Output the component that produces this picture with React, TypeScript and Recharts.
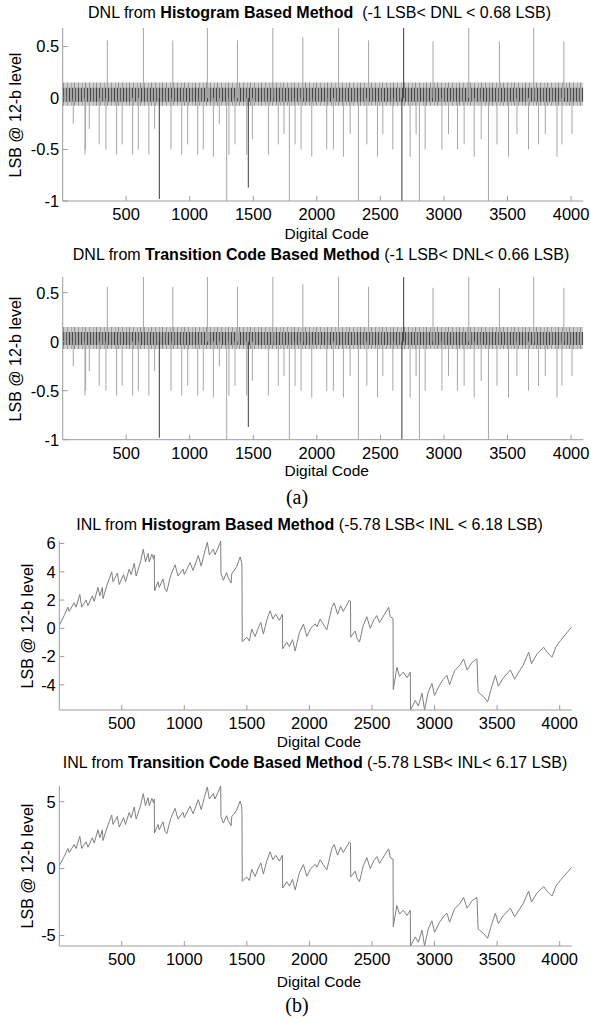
import { ComposedChart, Line, Area, XAxis, YAxis } from 'recharts'

const W = 591
const FONT = '"Liberation Sans", Arial, Helvetica, sans-serif'

const codeRange: [number, number] = [1, 4096]
const xTicks = [500, 1000, 1500, 2000, 2500, 3000, 3500, 4000]

const dnlTicks = [-1, -0.5, 0, 0.5]
const dnlHistRange: [number, number] = [-1, 0.68]
const dnlTransRange: [number, number] = [-1, 0.66]
const inlHistTicks = [-4, -2, 0, 2, 4, 6]
const inlTransTicks = [-5, 0, 5]
const inlHistRange: [number, number] = [-5.78, 6.18]
const inlTransRange: [number, number] = [-5.78, 6.17]

// DNL noise envelope (outer light band, darker core)
const bandCodes = [1, 4096]
const bandOuter = [[-0.075, 0.15], [-0.075, 0.15]]
const bandCore = [[-0.035, 0.1], [-0.035, 0.1]]

// DNL spikes
const upCodes = [352, 636, 867, 1139, 1376, 1654, 1890, 2171, 2407, 2914, 3195, 3436, 3706, 3943]
const upValues = [0.56, 0.68, 0.56, 0.68, 0.56, 0.68, 0.59, 0.68, 0.56, 0.55, 0.68, 0.55, 0.68, 0.55]

const downCodes = [
  84, 176, 181, 210, 288, 341, 425, 469, 551, 596, 679, 724, 853, 937, 984,
  1063, 1107, 1186, 1233, 1291, 1309, 1356, 1448, 1493, 1619, 1697, 1742, 1784, 1829, 1876,
  1960, 2078, 2130, 2209, 2262, 2327, 2393, 2477, 2519, 2598, 2734, 2781, 2807, 2852, 2984,
  3036, 3106, 3159, 3238, 3293, 3350, 3417, 3508, 3574, 3665, 3744, 3797, 3889, 3928, 4007,
]
const downValues = [
  -0.25, -0.55, -0.5, -0.3, -0.45, -0.5, -0.55, -0.45, -0.55, -0.5, -0.55, -0.3, -0.5, -0.55, -0.45,
  -0.55, -0.5, -0.57, -0.25, -1.0, -0.55, -0.45, -0.55, -0.4, -0.55, -0.45, -0.35, -1.0, -0.45, -0.5,
  -0.57, -0.5, -0.5, -0.57, -0.35, -1.0, -0.45, -0.57, -0.35, -0.5, -0.57, -0.35, -1.0, -0.5, -0.5,
  -0.35, -0.5, -0.45, -0.57, -0.4, -1.0, -0.45, -0.57, -0.35, -0.5, -0.45, -0.35, -0.57, -0.45, -0.35,
]

const darkCodes = [761, 1461, 2669, 2683]
const darkValues = [-0.98, -0.87, -1.0, 0.68]

// INL sawtooth
const inlCodes = [
  1, 40, 70, 80, 120, 135, 165, 180, 215, 230, 265, 280, 310, 325, 345, 350, 380, 400, 420, 430, 465, 480, 515, 530, 560, 575, 600, 615, 650, 672, 690, 710, 720, 740, 755, 760,
  762, 790, 800, 830, 845, 860, 890, 926, 950, 990, 1000, 1046, 1070, 1112, 1135, 1160, 1184, 1200, 1232, 1245, 1270, 1291,
  1293, 1312, 1338, 1350, 1374, 1380, 1400, 1420, 1446, 1459, 1461,
  1463, 1499, 1520, 1539, 1566, 1590, 1611, 1632, 1660, 1686, 1707, 1730, 1760, 1784,
  1786, 1819, 1840, 1865, 1886, 1920, 1952, 1979, 2010, 2046, 2060, 2086, 2110, 2139, 2179, 2198, 2225, 2250, 2270, 2320, 2328,
  2330, 2366, 2380, 2400, 2430, 2459, 2486, 2515, 2539, 2560, 2600, 2633, 2646, 2668,
  2670, 2699, 2720, 2750, 2780, 2806,
  2808, 2846, 2870, 2900, 2920, 2950, 2979, 3000, 3040, 3070, 3099, 3120, 3160, 3201, 3232, 3260, 3300, 3339,
  3348, 3392, 3424, 3455, 3486, 3510, 3550, 3606, 3640, 3680, 3707, 3752, 3775, 3820, 3872, 3900, 3939, 3970, 4006, 4050, 4096,
]
const inlValues = [
  0.2, 0.9, 1.5, 1.2, 1.8, 1.5, 2.4, 1.5, 2.0, 1.6, 2.3, 1.9, 2.9, 2.3, 2.9, 2.1, 3.0, 3.5, 4.0, 3.3, 3.9, 3.1, 3.8, 3.3, 4.2, 3.8, 4.6, 3.7, 4.7, 5.6, 4.7, 5.3, 4.7, 5.25, 4.9, 5.2,
  2.65, 3.3, 2.9, 3.5, 2.8, 2.6, 3.7, 4.5, 3.7, 4.2, 3.8, 4.65, 4.1, 5.15, 4.4, 5.3, 6.1, 5.2, 5.6, 5.2, 5.7, 6.18,
  3.9, 3.4, 3.95, 3.6, 3.2, 3.9, 4.1, 4.4, 5.05, 4.65, 4.1,
  -0.94, -0.63, -0.9, -0.05, -0.58, 0.0, 0.42, -0.4, 0.6, 1.25, 0.66, 1.0, 0.56, 1.0,
  -1.45, -0.98, -1.3, -0.8, -1.6, -0.3, 0.3, -0.58, 0.0, 0.32, 0.1, 0.66, 0.3, -0.1, 1.48, 1.8, 1.0, 1.6, 1.2, 2.0, 1.9,
  -0.63, -0.19, -0.7, -0.98, 0.2, 0.82, 0.0, 0.6, 0.9, 0.4, 1.0, 1.48, 0.82, 0.7,
  -4.34, -2.75, -3.4, -3.1, -3.5, -3.1,
  -5.78, -5.1, -5.5, -4.6, -5.78, -4.5, -3.9, -4.75, -4.0, -3.6, -3.33, -4.0, -3.0, -2.63, -2.16, -2.95, -2.4, -2.16,
  -4.5, -4.85, -5.2, -4.2, -3.33, -4.1, -3.5, -2.95, -3.6, -3.0, -2.63, -1.69, -2.5, -1.8, -1.34, -1.7, -2.05, -1.3, -0.87, -0.4, 0.1,
]

type Row = { code: number; v: number | null }

function spikeRows(codes: number[], values: number[]): Row[] {
  const rows: Row[] = []
  codes.forEach((c, i) => {
    rows.push({ code: c, v: 0 }, { code: c, v: values[i] }, { code: c, v: null })
  })
  return rows
}

const bandRows = bandCodes.map((c, i) => ({ code: c, outer: bandOuter[i], core: bandCore[i] }))
const lightSpikes = [...spikeRows(upCodes, upValues), ...spikeRows(downCodes, downValues)]
const darkSpikes = spikeRows(darkCodes, darkValues)
const inlRows = inlCodes.map((c, i) => ({ code: c, v: inlValues[i] }))

const axisColor = '#9c9c9c'
const tickStyle = { fill: '#000', fontSize: 16.5, fontFamily: FONT }

type Box = { left: number; right: number; top: number; bottom: number }

function Panel({ plot, yDomain, yTicks, children }: { plot: Box; yDomain: [number, number]; yTicks: number[]; children: any }) {
  const top = plot.top - 20
  const height = plot.bottom - top + 40
  return (
    <div style={{ position: 'absolute', left: 0, top, width: W, height }}>
      <ComposedChart
        width={W}
        height={height}
        margin={{ top: plot.top - top, right: W - plot.right, bottom: 10, left: plot.left - 50 }}
      >
        <XAxis type="number" dataKey="code" domain={codeRange} ticks={xTicks} interval={0} allowDataOverflow
          height={30} stroke={axisColor} tickSize={-5} tickMargin={12.5} tick={tickStyle} />
        <XAxis xAxisId="top" orientation="top" type="number" dataKey="code" domain={codeRange} ticks={xTicks} interval={0}
          allowDataOverflow height={0} stroke={axisColor} tickSize={-5} tick={false} />
        <YAxis type="number" domain={yDomain} ticks={yTicks} interval={0} allowDataOverflow
          width={50} stroke={axisColor} tickSize={-5} tickMargin={8.5} tick={tickStyle} />
        <YAxis yAxisId="right" orientation="right" type="number" domain={yDomain} ticks={yTicks} interval={0}
          allowDataOverflow width={0} stroke={axisColor} tickSize={-5} tick={false} />
        {children}
      </ComposedChart>
    </div>
  )
}

function Txt({ x, y, size, rotate, serif, children }: { x: number; y: number; size: number; rotate?: boolean; serif?: boolean; children: any }) {
  return (
    <div style={{
      position: 'absolute', left: x, top: y, whiteSpace: 'pre', lineHeight: 1,
      fontSize: size, fontFamily: serif ? '"Liberation Serif", "Times New Roman", serif' : FONT, color: '#000',
      transform: `translate(-50%, -50%)${rotate ? ' rotate(-90deg)' : ''}`,
    }}>{children}</div>
  )
}

// hatch textures for the dense noise band
function Textures() {
  return (
    <svg width={0} height={0} style={{ position: 'absolute' }}>
      <defs>
        <pattern id="bandLight" patternUnits="userSpaceOnUse" width={11} height={40}>
          <rect width={11} height={40} fill="#cdcdcd" />
          <rect x={1} width={1} height={40} fill="#9a9a9a" />
          <rect x={5} width={1} height={40} fill="#a8a8a8" />
          <rect x={8} width={1} height={40} fill="#8f8f8f" />
        </pattern>
        <pattern id="bandDark" patternUnits="userSpaceOnUse" width={9} height={40}>
          <rect width={9} height={40} fill="#a4a4a4" />
          <rect x={0} width={1} height={40} fill="#4a4a4a" />
          <rect x={3} width={1} height={40} fill="#5c5c5c" />
          <rect x={6} width={1} height={40} fill="#444" />
        </pattern>
      </defs>
    </svg>
  )
}

function dnlSeries() {
  return [
    <Area key="outer" data={bandRows} dataKey="outer" stroke="none" fill="url(#bandLight)" fillOpacity={1} isAnimationActive={false} />,
    <Area key="core" data={bandRows} dataKey="core" stroke="none" fill="url(#bandDark)" fillOpacity={1} isAnimationActive={false} />,
    <Line key="light" data={lightSpikes} dataKey="v" stroke="#a6a6a6" strokeWidth={1} dot={false} connectNulls={false} isAnimationActive={false} />,
    <Line key="dark" data={darkSpikes} dataKey="v" stroke="#3a3a3a" strokeWidth={1} dot={false} connectNulls={false} isAnimationActive={false} />,
  ]
}

function inlSeries() {
  return [
    <Line key="inl" data={inlRows} dataKey="v" stroke="#7f7f7f" strokeWidth={1} dot={false} isAnimationActive={false} />,
  ]
}

export default function App() {
  const p1 = { left: 62.7, right: 583.3, top: 28, bottom: 201 }
  const p2 = { left: 62.7, right: 583.3, top: 277.3, bottom: 440 }
  const p3 = { left: 59.3, right: 571.7, top: 541, bottom: 710 }
  const p4 = { left: 59.3, right: 571.7, top: 785.7, bottom: 945.7 }
  return (
    <div style={{ position: 'absolute', left: 0, top: 0, width: W, height: 1023, background: '#fff', fontFamily: FONT, overflow: 'hidden' }}>
      <Textures />
      <Txt x={319.5} y={13} size={16}>DNL from <b>Histogram Based Method</b>{'  (-1 LSB< DNL < 0.68 LSB)'}</Txt>
      <Panel plot={p1} yDomain={dnlHistRange} yTicks={dnlTicks}>{dnlSeries()}</Panel>
      <Txt x={15.5} y={114.5} size={16} rotate>LSB @ 12-b level</Txt>
      <Txt x={326.7} y={234} size={15.5}>Digital Code</Txt>

      <Txt x={321} y={255} size={16}>DNL from <b>Transition Code Based Method</b>{' (-1 LSB< DNL< 0.66 LSB)'}</Txt>
      <Panel plot={p2} yDomain={dnlTransRange} yTicks={dnlTicks}>{dnlSeries()}</Panel>
      <Txt x={15.5} y={358.7} size={16} rotate>LSB @ 12-b level</Txt>
      <Txt x={326.7} y={471} size={15.5}>Digital Code</Txt>
      <Txt x={297} y={497} size={20} serif>(a)</Txt>

      <Txt x={309.5} y={525} size={16}>INL from <b>Histogram Based Method</b>{' (-5.78 LSB< INL < 6.18 LSB)'}</Txt>
      <Panel plot={p3} yDomain={inlHistRange} yTicks={inlHistTicks}>{inlSeries()}</Panel>
      <Txt x={27.5} y={625.5} size={16} rotate>LSB @ 12-b level</Txt>
      <Txt x={319} y={742} size={15.5}>Digital Code</Txt>

      <Txt x={315} y={763} size={16}>INL from <b>Transition Code Based Method</b>{' (-5.78 LSB< INL< 6.17 LSB)'}</Txt>
      <Panel plot={p4} yDomain={inlTransRange} yTicks={inlTransTicks}>{inlSeries()}</Panel>
      <Txt x={27.5} y={865.7} size={16} rotate>LSB @ 12-b level</Txt>
      <Txt x={319} y={982} size={15.5}>Digital Code</Txt>
      <Txt x={297} y={1005} size={20} serif>(b)</Txt>
    </div>
  )
}
